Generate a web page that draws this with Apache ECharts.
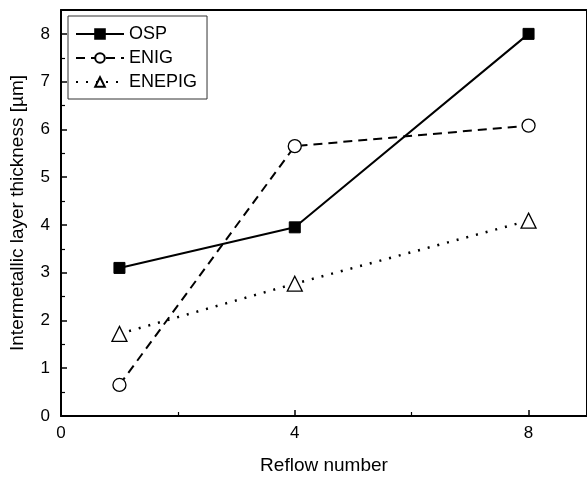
<!DOCTYPE html>
<html>
<head>
<meta charset="utf-8">
<script src="https://cdn.jsdelivr.net/npm/echarts@6/dist/echarts.min.js"></script>
<style>html,body{margin:0;padding:0;background:#fff}#c{width:587px;height:483px}</style>
</head>
<body>
<div id="c"></div>
<script>
var reflow = [1, 4, 8];
var osp = [3.1, 3.95, 8.0];
var enig = [0.65, 5.65, 6.08];
var enepig = [1.72, 2.77, 4.09];
var xTicks = [0, 4, 8];
var xTitle = 'Reflow number';
var yTitle = 'Intermetallic layer thickness [\u00b5m]';

function pts(v){ return reflow.map(function(x,i){ return [x, v[i]]; }); }
var font = 'Liberation Sans, Arial, sans-serif';
var chart = echarts.init(document.getElementById('c'), null, {renderer:'canvas'});
chart.setOption({
  animation: false,
  backgroundColor: '#fff',
  grid: {left: 61, top: 10, right: -3, bottom: 67, show: false},
  legend: {
    left: 68, top: 16, orient: 'vertical',
    itemWidth: 48, itemHeight: 12, itemGap: 6,
    padding: [9, 10, 8, 7],
    borderColor: '#333', borderWidth: 1,
    textStyle: {fontFamily: font, fontSize: 18, color: '#000'},
    data: ['OSP', 'ENIG', 'ENEPIG']
  },
  xAxis: [{
    type: 'value', min: 0, max: 9, interval: 4,
    name: xTitle, nameLocation: 'middle', nameGap: 40,
    nameTextStyle: {fontFamily: font, fontSize: 19, color: '#000'},
    axisLine: {show: true, lineStyle: {color: '#000', width: 2}},
    axisTick: {show: true, inside: true, length: 6, lineStyle: {color: '#000', width: 1.5}},
    minorTick: {show: true, splitNumber: 2, length: 4, lineStyle: {color: '#000', width: 1.2}},
    axisLabel: {fontFamily: font, fontSize: 17, color: '#000', margin: 9, showMaxLabel: false,
      formatter: function(v){ return xTicks.indexOf(v) >= 0 ? String(v) : ''; }},
    splitLine: {show: false}
  }, {
    type: 'value', min: 0, max: 9, position: 'top',
    axisLine: {show: true, onZero: false, lineStyle: {color: '#000', width: 2}},
    axisTick: {show: false}, axisLabel: {show: false}, splitLine: {show: false}
  }],
  yAxis: [{
    type: 'value', min: 0, max: 8.5, interval: 1,
    name: yTitle, nameLocation: 'middle', nameGap: 34,
    nameTextStyle: {fontFamily: font, fontSize: 19, color: '#000'},
    axisLine: {show: true, lineStyle: {color: '#000', width: 2}},
    axisTick: {show: true, inside: true, length: 6, lineStyle: {color: '#000', width: 1.5}},
    minorTick: {show: true, splitNumber: 2, length: 4, lineStyle: {color: '#000', width: 1.2}},
    axisLabel: {fontFamily: font, fontSize: 17, color: '#000', margin: 11, showMaxLabel: false,
      formatter: function(v){ return Number.isInteger(v) ? String(v) : ''; }},
    splitLine: {show: false}
  }, {
    type: 'value', min: 0, max: 8.5, position: 'right',
    axisLine: {show: true, onZero: false, lineStyle: {color: '#000', width: 2}},
    axisTick: {show: false}, axisLabel: {show: false}, splitLine: {show: false}
  }],
  series: [{
    name: 'OSP', type: 'line', data: pts(osp),
    symbol: 'rect', symbolSize: 11,
    lineStyle: {color: '#000', width: 2, type: 'solid'},
    itemStyle: {color: '#000', borderColor: '#000', borderWidth: 1}
  }, {
    name: 'ENIG', type: 'line', data: pts(enig),
    symbol: 'circle', symbolSize: 13,
    lineStyle: {color: '#000', width: 2, type: [9, 6]},
    itemStyle: {color: '#fff', borderColor: '#000', borderWidth: 1.3}
  }, {
    name: 'ENEPIG', type: 'line', data: pts(enepig),
    symbol: 'triangle', symbolSize: 15,
    lineStyle: {color: '#000', width: 2.5, type: [2, 8]},
    itemStyle: {color: '#fff', borderColor: '#000', borderWidth: 1.3}
  }]
});
</script>
</body>
</html>
